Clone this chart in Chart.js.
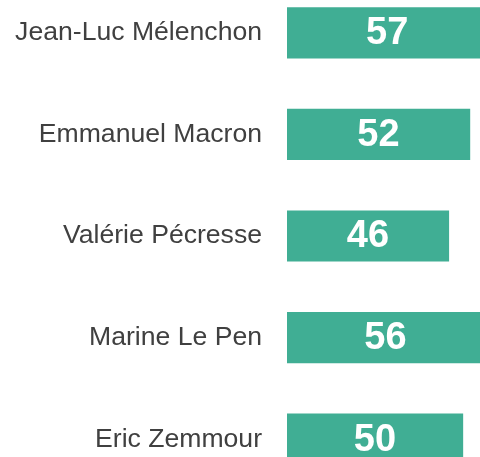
<!DOCTYPE html>
<html>
<head>
<meta charset="utf-8">
<script src="https://cdn.jsdelivr.net/npm/chart.js@4"></script>
<style>
    html, body { margin: 0; padding: 0; background: #fff; overflow: hidden; width: 480px; height: 457px; }
    #barChart { position: absolute; left: 0; top: -18.5px; }
</style>
</head>
<body>
<canvas id="barChart" width="498" height="508"></canvas>
<script>
const candidates = [
    "Jean-Luc Mélenchon",
    "Emmanuel Macron",
    "Valérie Pécresse",
    "Marine Le Pen",
    "Eric Zemmour"
];
const scores = [57, 52, 46, 56, 50];

// writes the score in the middle of each bar
const valueLabels = {
    id: "valueLabels",
    afterDatasetsDraw(chart){
        const ctx = chart.ctx;
        const meta = chart.getDatasetMeta(0);
        ctx.save();
        ctx.fillStyle = "#ffffff";
        ctx.font = "bold 38px 'Liberation Sans', Arial, sans-serif";
        ctx.textAlign = "center";
        ctx.textBaseline = "middle";
        meta.data.forEach((bar, i) => {
            ctx.fillText(String(scores[i]), (bar.x + bar.base) / 2, bar.y + 1);
        });
        ctx.restore();
    }
};

new Chart(document.getElementById("barChart"), {
    type: "bar",
    data: {
        labels: candidates,
        datasets: [{
            data: scores,
            backgroundColor: "#40ae94",
            borderWidth: 0,
            barThickness: 50.5
        }]
    },
    options: {
        indexAxis: "y",
        responsive: false,
        animation: false,
        layout: { padding: 0 },
        plugins: {
            legend: { display: false },
            tooltip: { enabled: false }
        },
        scales: {
            x: {
                display: false,
                min: 0,
                max: 60
            },
            y: {
                grid: { display: false, drawTicks: false },
                border: { display: false },
                ticks: {
                    padding: 25,
                    color: "#404040",
                    font: { family: "'Liberation Sans', Arial, sans-serif", size: 26.6 }
                },
                afterFit(scale){
                    scale.width = 287;
                    scale.paddingTop = 0;
                    scale.paddingBottom = 0;
                }
            }
        }
    },
    plugins: [valueLabels]
});
</script>
</body>
</html>
